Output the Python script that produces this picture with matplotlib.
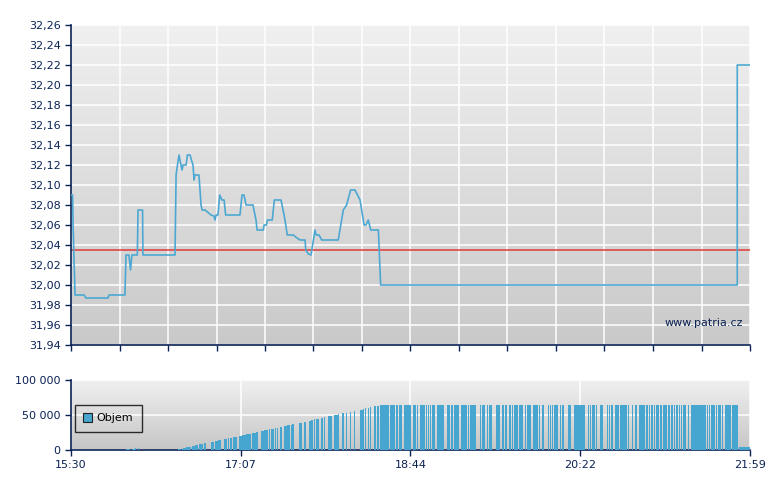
import numpy as np
import matplotlib
matplotlib.use("Agg")
import matplotlib.pyplot as plt
from matplotlib.colors import LinearSegmentedColormap
from matplotlib.patches import Patch

# price, minutes after 15:30
price_t = [0, 0.9, 1.2, 2.3, 7.5, 8.6, 21.2, 21.8, 30.9, 31.5, 33.2, 34.1, 34.9,
           38.0, 38.4, 41.0, 41.2, 59.6, 60.2, 61.0, 61.9, 63.0, 63.6, 64.2, 65.9,
           66.7, 68.2, 69.0, 69.9, 70.5, 71.0, 73.3, 74.5, 75.1, 76.8, 80.2, 81.9,
           82.5, 83.1, 84.2, 85.2, 86.5, 87.7, 88.6, 96.8, 98.0, 99.1, 99.7, 100.3,
           104.3, 104.8, 106.0, 106.6, 110.2, 110.6, 112.0, 112.5, 115.3, 116.5,
           120.3, 121.5, 122.6, 123.9, 127.4, 128.7, 131.2, 134.1, 134.5, 136.0,
           137.5, 139.8, 140.4, 142.1, 143.6, 153.1, 156.0, 157.9, 160.2, 162.7,
           165.6, 167.9, 169.0, 170.3, 171.7, 176.1, 177.4, 381.7, 381.7, 389]
price_v = [32.09, 32.09, 32.06, 31.99, 31.99, 31.987, 31.987, 31.99, 31.99, 32.03,
           32.03, 32.015, 32.03, 32.03, 32.075, 32.075, 32.03, 32.03, 32.11, 32.12,
           32.13, 32.12, 32.115, 32.12, 32.12, 32.13, 32.13, 32.125, 32.12, 32.105,
           32.11, 32.11, 32.08, 32.075, 32.075, 32.07, 32.069, 32.065, 32.07, 32.07,
           32.09, 32.085, 32.085, 32.07, 32.07, 32.09, 32.09, 32.085, 32.08, 32.08,
           32.075, 32.065, 32.055, 32.055, 32.06, 32.06, 32.065, 32.065, 32.085,
           32.085, 32.075, 32.065, 32.05, 32.05, 32.048, 32.045, 32.045, 32.035,
           32.031, 32.03, 32.055, 32.05, 32.05, 32.045, 32.045, 32.075, 32.08,
           32.095, 32.095, 32.085, 32.06, 32.06, 32.065, 32.055, 32.055, 32.0, 32.0,
           32.22, 32.22]
ref_price = 32.035

# volume bars: start, end (minutes after 15:30), volume
vol_start = [31.5, 34.9, 36.7, 38.2, 61.3, 63.4, 64.3, 66.0, 69.1, 71.0, 73.5, 76.0,
             80.0, 82.3, 84.2, 87.5, 89.9, 91.1, 92.8, 96.2, 98.0, 100.3, 103.9,
             106.0, 108.9, 110.6, 113.4, 114.6, 116.9, 118.0, 119.7, 122.0, 123.7,
             126.0, 126.8, 130.6, 133.3, 136.4, 137.5, 139.2, 140.2, 143.2, 144.9,
             147.2, 148.4, 150.7, 153.0, 155.3, 157.5, 159.8, 162.1, 165.6, 167.1,
             168.3, 170.0, 171.1, 173.8, 175.1, 177.0,
             182.8, 186.4, 187.7, 190.8, 195.8, 198.2, 199.9, 203.2, 204.4, 205.5,
             206.8, 209.7, 215.4, 217.7, 219.4, 223.5, 227.4, 228.6, 234.3, 235.5,
             238.3, 239.5, 243.5, 246.9, 248.6, 250.9, 252.6, 253.8, 256.7, 260.1,
             261.2, 264.7, 268.1, 269.8, 273.3, 274.4, 275.6, 276.7, 280.1, 281.3,
             284.7, 288.2, 296.2, 297.3, 298.5, 300.8, 303.1, 307.1, 308.2, 309.4,
             311.7, 314.5, 319.1, 321.4, 323.1, 325.4, 329.4, 331.1, 332.3, 333.9,
             335.1, 337.4, 339.1, 342.0, 343.7, 345.4, 346.6, 348.3, 349.5, 350.6,
             353.5, 355.2, 364.4, 365.5, 366.7, 369.5, 370.7, 373.0, 374.7, 378.7,
             382.7]
vol_end = [33.8, 36.7, 37.2, 39.0, 63.2, 64.0, 65.7, 68.5, 70.8, 72.7, 75.8, 77.1,
           81.7, 84.0, 85.9, 89.5, 90.7, 92.4, 95.3, 97.8, 100.3, 103.1, 106.0,
           107.3, 110.6, 112.9, 114.2, 116.5, 117.6, 118.8, 120.9, 123.7, 125.6,
           126.8, 127.8, 132.3, 134.5, 137.5, 138.6, 139.8, 142.1, 144.4, 145.5,
           148.2, 149.4, 153.0, 153.5, 156.2, 158.1, 160.4, 162.7, 167.1, 168.0,
           169.0, 170.7, 171.9, 174.6, 176.6, 182.0,
           185.8, 187.3, 189.6, 195.0, 197.7, 198.8, 202.6, 203.8, 204.9, 206.3,
           208.7, 213.7, 217.1, 218.9, 222.3, 226.9, 228.0, 232.0, 234.9, 237.2,
           238.9, 241.2, 245.8, 248.1, 249.8, 252.1, 253.2, 256.1, 259.0, 260.7,
           263.5, 267.5, 268.7, 271.0, 273.8, 275.0, 276.1, 279.0, 280.7, 282.4,
           286.5, 294.5, 296.8, 297.9, 300.2, 301.3, 304.8, 307.6, 308.8, 310.5,
           313.9, 318.5, 319.7, 322.0, 324.3, 328.8, 330.6, 331.7, 333.4, 334.5,
           336.8, 338.6, 341.4, 343.1, 344.9, 346.0, 347.7, 348.9, 350.1, 352.4,
           354.1, 363.8, 364.9, 366.1, 369.0, 370.1, 372.4, 373.5, 378.1, 382.1,
           389.0]
vol_value = [1400, 1900, 2900, 2900, 1900, 1900, 3300, 4800, 5700, 7100, 9000, 10000,
             11400, 12800, 14300, 15700, 17100, 17100, 18600, 20000, 21400, 22800,
             24700, 25700, 27100, 28600, 30000, 30000, 31400, 31400, 32800, 34300,
             35700, 35700, 37100, 38600, 40000, 41400, 42800, 44300, 44300, 45700,
             47100, 48600, 48600, 50000, 51400, 52800, 52800, 54300, 55700, 57600,
             58600, 60000, 60000, 61400, 62400, 63300, 64700] + [64700] * 80 + [4300]

time_ticks = [0, 97.25, 194.5, 291.75, 389]
time_labels = ["15:30", "17:07", "18:44", "20:22", "21:59"]

navy = "#0b2255"
line_blue = "#4ca8d2"
bar_blue = "#46a6cf"


def gradient(ax, top, bottom):
    cmap = LinearSegmentedColormap.from_list("g", [bottom, top])
    ax.imshow(np.linspace(1, 0, 256).reshape(-1, 1), cmap=cmap, aspect="auto",
              extent=[0, 1, 0, 1], transform=ax.transAxes, zorder=0)


def style_axes(ax):
    for s in ["top", "right"]:
        ax.spines[s].set_visible(False)
    for s in ["left", "bottom"]:
        ax.spines[s].set_color(navy)
        ax.spines[s].set_linewidth(1.2)
    ax.tick_params(direction="out", length=4, width=1, color=navy,
                   labelcolor=navy, labelsize=8)
    ax.set_axisbelow(True)
    ax.grid(True, color="white", linewidth=1.1)


fig = plt.figure(figsize=(7.8, 4.9), dpi=100)
ax = fig.add_axes([71 / 780, 1 - 345 / 490, 679 / 780, 320 / 490])
axv = fig.add_axes([71 / 780, 1 - 450 / 490, 679 / 780, 70 / 490])

# price chart
gradient(ax, "#f0f0f0", "#c9c9c9")
style_axes(ax)
ax.plot(price_t, price_v, color=line_blue, linewidth=1.2, zorder=3)
ax.axhline(ref_price, color="#e03a3a", linewidth=1.1, zorder=2)
ax.set_xlim(0, 389)
ax.set_ylim(31.94, 32.26)
yt = np.arange(31.94, 32.2601, 0.02)
ax.set_yticks(yt)
ax.set_yticklabels([("%.2f" % v).replace(".", ",") for v in yt])
ax.set_xticks(np.linspace(0, 389, 15))
ax.set_xticklabels([])
ax.text(0.99, 0.069, "www.patria.cz", transform=ax.transAxes, ha="right",
        va="center", color=navy, fontsize=8, zorder=4)

# volume chart
gradient(axv, "#f0f0f0", "#c6c6c6")
style_axes(axv)
widths = [e - s for s, e in zip(vol_start, vol_end)]
axv.bar(vol_start, vol_value, width=widths, align="edge", color=bar_blue,
        linewidth=0, antialiased=False, zorder=3)
axv.set_xlim(0, 389)
axv.set_ylim(0, 100000)
axv.set_yticks([0, 50000, 100000])
axv.set_yticklabels(["0", "50 000", "100 000"])
axv.set_xticks(time_ticks)
axv.set_xticklabels(time_labels)
leg = axv.legend(handles=[Patch(facecolor=bar_blue, edgecolor="#222222",
                                linewidth=0.8, label="Objem")],
                 loc="upper left", bbox_to_anchor=(0.006, 0.645),
                 borderaxespad=0, fancybox=False, fontsize=8,
                 handlelength=0.8, handleheight=0.8, handletextpad=0.4,
                 borderpad=0.75)
leg.get_frame().set_facecolor("none")
leg.get_frame().set_edgecolor("black")
leg.get_frame().set_linewidth(1)
for t in leg.get_texts():
    t.set_color("black")

fig.savefig("out.png", dpi=100)
